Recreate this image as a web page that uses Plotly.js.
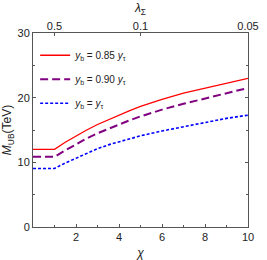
<!DOCTYPE html>
<html><head><meta charset="utf-8">
<script src="https://cdn.plot.ly/plotly-3.0.1.min.js"></script>
<style>html,body{margin:0;padding:0;background:#fff}#c{width:267px;height:260px}</style>
</head><body><div id="c"></div>
<script>
const chi = [0, 1, 1.5, 2, 2.5, 3, 3.5, 4, 4.5, 5, 6, 7, 8, 9, 10];
const red = [12.0, 12.0, 13.1, 14.1, 15.0, 15.85, 16.6, 17.3, 18.0, 18.65, 19.75, 20.7, 21.5, 22.3, 23.0];
const purple = [10.85, 10.85, 11.85, 12.8, 13.7, 14.5, 15.2, 15.9, 16.5, 17.1, 18.15, 19.05, 19.9, 20.7, 21.5];
const blue = [9.05, 9.05, 9.9, 10.65, 11.4, 12.1, 12.7, 13.2, 13.65, 14.1, 14.85, 15.5, 16.2, 16.8, 17.3];
const names = ['<i>y</i><sub>b</sub> = 0.85 <i>y</i><sub>τ</sub>', '<i>y</i><sub>b</sub> = 0.90 <i>y</i><sub>τ</sub>', '<i>y</i><sub>b</sub> = <i>y</i><sub>τ</sub>'];
const topTickChi = [1, 5, 10];
const topTickText = ['0.5', '0.1', '0.05'];

const font = {family: 'Liberation Sans, Arial, sans-serif', size: 11, color: '#222'};
const traces = [
  {x: chi, y: red, name: names[0], legendgroup: 'a', mode: 'lines', line: {color: '#ff0000', width: 1.3}},
  {x: chi, y: purple, name: names[1], legendgroup: 'b', mode: 'lines', line: {color: '#800080', width: 2, dash: '8px,4px'}},
  {x: chi, y: blue, name: names[2], legendgroup: 'c', mode: 'lines', line: {color: '#0000ff', width: 1.6, dash: '3px,2px'}},
  {x: topTickChi, y: [null, null, null], xaxis: 'x2', yaxis: 'y', showlegend: false, hoverinfo: 'skip'}
];
const layout = {
  width: 267, height: 260,
  margin: {l: 33, r: 19, t: 33, b: 33},
  paper_bgcolor: '#fff', plot_bgcolor: '#fff',
  font: font,
  showlegend: true,
  legend: {x: 0.01, y: 0.96, xanchor: 'left', yanchor: 'top', bgcolor: 'rgba(0,0,0,0)',
    font: {family: font.family, size: 10, color: '#222'}, itemwidth: 30, tracegroupgap: 5},
  xaxis: {range: [0, 10], showgrid: false, zeroline: false, showline: true, linecolor: '#555', linewidth: 1,
    mirror: true, ticks: 'inside', ticklen: 3, tickcolor: '#555', tickvals: [2, 4, 6, 8, 10],
    minor: {ticks: 'inside', ticklen: 2, tickcolor: '#555', tickvals: [1, 3, 5, 7, 9]},
    title: {text: '<i>χ</i>', font: {family: font.family, size: 12, color: '#222'}, standoff: 8}},
  xaxis2: {overlaying: 'x', side: 'top', range: [0, 10], showgrid: false, zeroline: false, showline: false,
    ticks: 'inside', ticklen: 3, tickcolor: '#555', tickvals: topTickChi, ticktext: topTickText,
    title: {text: '<i>λ</i><sub>Σ</sub>', font: {family: font.family, size: 12, color: '#222'}, standoff: 4}},
  yaxis: {range: [0, 30], showgrid: false, zeroline: false, showline: true, linecolor: '#555', linewidth: 1,
    mirror: 'ticks', ticks: 'inside', ticklen: 3, tickcolor: '#555', tickvals: [0, 10, 20, 30],
    minor: {ticks: 'inside', ticklen: 2, tickcolor: '#555', tickvals: [5, 15, 25]},
    title: {text: '<i>M</i><sub>UB</sub>(TeV)', font: {family: font.family, size: 12, color: '#222'}, standoff: 4}}
};
Plotly.newPlot('c', traces, layout, {displayModeBar: false, staticPlot: true});
</script></body></html>
